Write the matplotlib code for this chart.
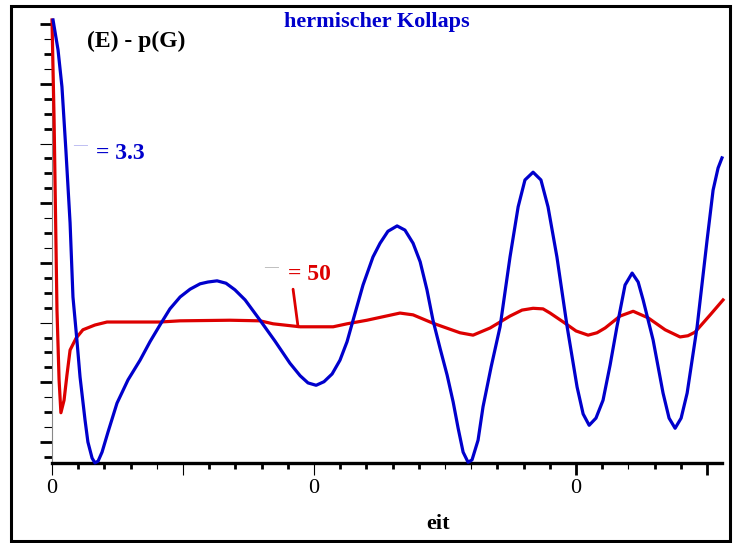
import numpy as np
import matplotlib
matplotlib.use("Agg")
import matplotlib.pyplot as plt
from matplotlib.patches import Rectangle

plt.rcParams['font.family'] = ['Liberation Serif', 'DejaVu Serif']

# curve samples (x in tick steps, y in major-tick units)
blue_x = [0.04, 0.23, 0.38, 0.53, 0.69, 0.80, 0.95, 1.07, 1.26, 1.37, 1.53, 1.64,
          1.76, 1.91, 2.14, 2.48, 2.90, 3.36, 3.74, 4.12, 4.50, 4.89, 5.27, 5.65,
          5.95, 6.30, 6.64, 6.98, 7.37, 7.94, 8.51, 9.08, 9.47, 9.77, 10.08, 10.38,
          10.69, 10.99, 11.26, 11.49, 11.87, 12.25, 12.52, 12.82, 13.17, 13.47,
          13.78, 14.05, 14.31, 14.54, 14.81, 15.08, 15.31, 15.50, 15.69, 15.88,
          16.03, 16.26, 16.45, 16.76, 17.10, 17.48, 17.79, 18.05, 18.36, 18.66,
          18.93, 19.27, 19.66, 20.04, 20.27, 20.50, 20.76, 21.03, 21.30, 21.56,
          21.87, 22.14, 22.37, 22.56, 22.94, 23.32, 23.55, 23.78, 24.01, 24.24,
          24.62, 25.00, 25.23, 25.42, 25.57]
blue_y = [7.07, 6.57, 5.95, 4.89, 3.67, 2.43, 1.71, 1.09, 0.37, 0.00, -0.27, -0.35,
          -0.32, -0.17, 0.17, 0.65, 1.04, 1.37, 1.68, 1.96, 2.23, 2.43, 2.56, 2.65,
          2.68, 2.70, 2.66, 2.55, 2.38, 2.04, 1.69, 1.32, 1.11, 0.99, 0.95, 1.01,
          1.14, 1.37, 1.68, 2.04, 2.63, 3.10, 3.33, 3.53, 3.62, 3.55,
          3.33, 3.02, 2.55, 2.04, 1.57, 1.12, 0.67, 0.23, -0.17, -0.34,
          -0.30, 0.03, 0.59, 1.26, 1.93, 3.10, 3.94, 4.39, 4.52, 4.39,
          3.94, 3.10, 1.93, 0.92, 0.47, 0.28, 0.40, 0.70, 1.29, 1.93,
          2.63, 2.83, 2.68, 2.38, 1.71, 0.82, 0.40, 0.23, 0.40, 0.82,
          1.93, 3.38, 4.22, 4.59, 4.76]

red_x = [0.0, 0.08, 0.19, 0.27, 0.34, 0.46, 0.57, 0.69, 0.92, 1.18, 1.64, 2.10,
         4.12, 4.89, 6.79, 7.94, 8.44, 9.47, 10.73, 11.26, 12.02, 13.28, 13.78,
         14.54, 15.57, 16.07, 16.72, 17.48, 17.94, 18.36, 18.74, 19.01, 19.58,
         20.00, 20.46, 20.80, 21.11, 21.68, 22.18, 22.75, 23.40, 23.97, 24.27,
         24.54, 25.12, 25.61]
red_y = [7.07, 5.39, 2.21, 1.04, 0.49, 0.70, 1.12, 1.54, 1.74, 1.88, 1.96, 2.01,
         2.01, 2.03, 2.04, 2.03, 1.98, 1.93, 1.93, 1.98, 2.04, 2.16, 2.13,
         1.99, 1.83, 1.79, 1.91, 2.11, 2.21, 2.24, 2.23, 2.16, 1.99,
         1.86, 1.79, 1.83, 1.91, 2.11, 2.19, 2.08, 1.88, 1.76, 1.78,
         1.84, 2.13, 2.38]

x_ticks = np.arange(0, 26)
x_labels = ['0' if i % 10 == 0 else '' for i in x_ticks]
y_ticks = np.arange(-0.25, 7.01, 0.25)

title = "hermischer Kollaps"
blue_label = "= 3.3"
red_label = "= 50"

fig = plt.figure(figsize=(7.37, 5.43), dpi=100)
ax = fig.add_axes([52 / 737, 80 / 543, 670 / 737, 443 / 543])

ax.plot(red_x, red_y, color='#dd0000', lw=2.3, clip_on=False, zorder=3,
        solid_joinstyle='round')
ax.plot(blue_x, blue_y, color='#0000cc', lw=2.3, clip_on=False, zorder=4,
        solid_joinstyle='round')

ax.set_xlim(0, 25.57)
ax.set_ylim(-0.352, 7.07)

for s in ['top', 'right']:
    ax.spines[s].set_visible(False)
ax.spines['bottom'].set_linewidth(2.4)
ax.spines['left'].set_linewidth(0.8)
ax.spines['left'].set_color('#888888')

# x ticks
ax.set_xticks(x_ticks)
ax.set_xticklabels(x_labels)
ax.tick_params(axis='x', direction='out', length=4.5, width=2.0, color='black',
               pad=7, labelsize=16)
gray_x = {0, 4, 5, 10, 15, 16, 22}
long_x = {0, 5, 10, 20, 25}
for i, t in enumerate(ax.xaxis.get_major_ticks()):
    if i in gray_x:
        t.tick1line.set_color('#999999')
        t.tick1line.set_markeredgewidth(0.8)
    if i in long_x:
        t.tick1line.set_markersize(8.5)

# y ticks
ax.set_yticks(y_ticks)
ax.set_yticklabels([])
ax.tick_params(axis='y', direction='out', length=5.8, width=2.0, color='black')
gray_y = {27, 25, 20, 15, 13, 8, 3, 1}
for j, t in enumerate(ax.yaxis.get_major_ticks()):
    k = j - 1
    if k in gray_y:
        t.tick1line.set_color('#999999')
        t.tick1line.set_markeredgewidth(0.8)
    if k % 4 == 0:
        t.tick1line.set_markersize(9)

# pointer for the red curve
ax.annotate('', xy=(9.39, 1.93), xytext=(9.2, 2.56),
            arrowprops=dict(arrowstyle='-', color='#dd0000', lw=2.0,
                            shrinkA=0, shrinkB=0))

fig.text(377 / 737, 1 - 22 / 543, title, ha='center', va='center',
         color='#0000cc', fontsize=16, fontweight='bold')
fig.text(87 / 737, 1 - 41 / 543, "(E) - p(G)", ha='left', va='center',
         color='black', fontsize=17, fontweight='bold')
fig.text(73 / 737, 1 - 146 / 543, "\u2014", ha='left', va='center',
         color='#aaaaee', fontsize=10)
fig.text(96 / 737, 1 - 153 / 543, blue_label, ha='left', va='center',
         color='#0000cc', fontsize=17, fontweight='bold')
fig.text(264 / 737, 1 - 268 / 543, "\u2014", ha='left', va='center',
         color='#aaaaaa', fontsize=10)
fig.text(288 / 737, 1 - 275 / 543, red_label, ha='left', va='center',
         color='#dd0000', fontsize=17, fontweight='bold')
fig.text(438 / 737, 1 - 524 / 543, "eit", ha='center', va='center',
         color='black', fontsize=16, fontweight='bold')

fig.patches.append(Rectangle((11 / 737, 2 / 543), 719 / 737, 535 / 543,
                             transform=fig.transFigure, fill=False,
                             edgecolor='black', lw=2.2))

fig.savefig('out.png', dpi=100)
